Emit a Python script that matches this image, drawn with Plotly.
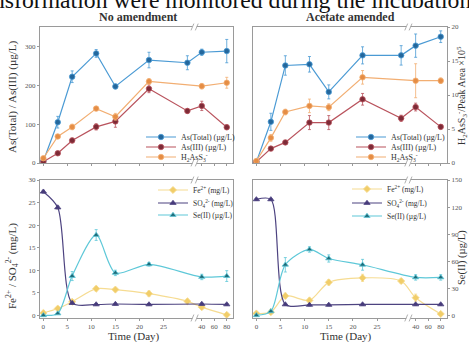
import plotly.graph_objects as go

# ---------------- data ----------------
days = [0, 3, 6, 11, 15, 22, 30, 40, 80]
tick_days = [0, 5, 10, 15, 20, 25, 40, 60, 80]
tick_labels = ['0', '5', '10', '15', '20', '25', '40', '60', '80']

# No amendment (top-left)
as_total_na = [5, 105, 222, 282, 197, 265, 258, 285, 288]
as_total_na_err = [3, 15, 15, 10, 6, 20, 18, 8, 30]
as_iii_na = [3, 25, 58, 93, 107, 191, 134, 147, 92]
as_iii_na_err = [2, 5, 6, 8, 15, 10, 6, 12, 6]
h2ass3_na = [0.7, 3.9, 5.3, 8.0, 6.8, 12.0, None, 11.3, 11.8]
h2ass3_na_err = [0.2, 0.3, 0.4, 0.3, 0.5, 0.4, 0, 0.4, 0.8]

# Acetate amended (top-right)
as_total_ac = [3, 106, 251, 254, 183, 277, 277, 302, 325]
as_total_ac_err = [2, 22, 25, 20, 18, 22, 25, 30, 15]
as_iii_ac = [3, 37, 53, 104, 104, 164, 115, 144, 93]
as_iii_ac_err = [2, 5, 5, 18, 18, 15, 8, 10, 6]
h2ass3_ac = [0.3, 3.7, 7.5, 8.4, 8.2, 12.6, None, 12.1, 12.1]
h2ass3_ac_err = [0.2, 0.5, 0.4, 1.0, 0.5, 1.0, 0, 2.5, 0.4]

# No amendment (bottom-left)
fe_na = [0.5, 1.5, 3.0, 5.9, 5.7, 4.8, 3.1, 1.8, 0.1]
fe_na_err = [0.6, 0.4, 0.3, 0.5, 0.3, 0.6, 0.5, 0.4, 0.3]
so4_na = [27.4, 23.9, 2.7, 2.4, 2.5, 2.4, None, 2.5, 2.4]
so4_na_err = [0.3, 0.3, 0.2, 0.2, 0.2, 0.2, 0, 0.2, 0.2]
se_na = [0, 2, 43.5, 89, 47, 56.5, None, 42.5, 43.5]
se_na_err = [0, 0, 5, 6, 3, 2, 0, 3, 6]

# Acetate amended (bottom-right)
fe_ac = [0.4, 0.7, 4.3, 3.3, 7.3, 8.3, 7.6, 3.9, 0.3]
fe_ac_err = [0.3, 0.3, 0.6, 0.5, 0.6, 0.8, 0.5, 0.8, 0.3]
so4_ac = [25.7, 25.7, 2.4, 2.3, 2.3, 2.4, None, 2.4, 2.4]
so4_ac_err = [0.2, 0.2, 0.2, 0.2, 0.2, 0.2, 0, 0.2, 0.2]
se_ac = [0, 4.4, 56, 73, 63, 56, None, 42, 42]
se_ac_err = [0, 1, 8, 3, 4, 6, 0, 3, 3]

# ---------------- layout helpers ----------------
W, H = 469, 342
FONT = 'Liberation Serif'


def px(x):
    return x / W


def py(y):
    return 1 - y / H


def xpos(d):
    return d if d <= 30 else 33.0 + (d - 40) * 0.13


X_L = [px(40), px(233)]
X_R = [px(253), px(447)]
Y_T = [py(163), py(27)]
Y_B = [py(318), py(180)]
XRANGE = [-0.7, 39.5]
BREAK = 31.5

C_BLUE_L, C_BLUE_M = '#4a9ad4', '#24679c'
C_RED_L, C_RED_M = '#b9535d', '#7d2b37'
C_ORG_L, C_ORG_M = '#f2ae72', '#e58d45'
C_FE_L, C_FE_M = '#f6dc92', '#f1cd69'
C_SO4_L, C_SO4_M = '#4d4380', '#463a7a'
C_SE_L, C_SE_M = '#5ec8d8', '#1f6b79'

fig = go.Figure()
xs = [xpos(d) for d in days]


def add(y, err, name, cl, cm, symbol, xa, ya, leg, spline):
    fig.add_trace(go.Scatter(
        x=xs, y=y, name=name, xaxis=xa, yaxis=ya, legend=leg,
        mode='lines+markers', connectgaps=True, hoverinfo='skip',
        error_y=dict(type='data', array=err, color=cl, thickness=0.8, width=1.5),
        line=dict(color=cl, width=1.2, shape='spline' if spline else 'linear', smoothing=0.8),
        marker=dict(color=cm, size=5.5, symbol=symbol, line=dict(color=cl, width=0.8)),
    ))


add(as_total_na, as_total_na_err, 'As(Total) (µg/L)', C_BLUE_L, C_BLUE_M, 'circle', 'x', 'y', 'legend2', False)
add(as_iii_na, as_iii_na_err, 'As(III) (µg/L)', C_RED_L, C_RED_M, 'circle', 'x', 'y', 'legend3', False)
add(h2ass3_na, h2ass3_na_err, 'H<sub>2</sub>AsS<sub>3</sub><sup>-</sup>', C_ORG_L, C_ORG_M, 'circle', 'x', 'y2', 'legend4', False)

add(as_total_ac, as_total_ac_err, 'As(Total) (µg/L)', C_BLUE_L, C_BLUE_M, 'circle', 'x2', 'y3', 'legend5', False)
add(as_iii_ac, as_iii_ac_err, 'As(III) (µg/L)', C_RED_L, C_RED_M, 'circle', 'x2', 'y3', 'legend6', False)
add(h2ass3_ac, h2ass3_ac_err, 'H<sub>2</sub>AsS<sub>3</sub><sup>-</sup>', C_ORG_L, C_ORG_M, 'circle', 'x2', 'y4', 'legend7', False)

add(fe_na, fe_na_err, 'Fe<sup>2+</sup> (mg/L)', C_FE_L, C_FE_M, 'diamond', 'x3', 'y5', 'legend8', True)
add(so4_na, so4_na_err, 'SO<sub>4</sub><sup>2-</sup> (mg/L)', C_SO4_L, C_SO4_M, 'triangle-up', 'x3', 'y5', 'legend9', True)
add(se_na, se_na_err, 'Se(II) (µg/L)', C_SE_L, C_SE_M, 'triangle-up', 'x3', 'y6', 'legend10', True)

add(fe_ac, fe_ac_err, 'Fe<sup>2+</sup> (mg/L)', C_FE_L, C_FE_M, 'diamond', 'x4', 'y7', 'legend11', True)
add(so4_ac, so4_ac_err, 'SO<sub>4</sub><sup>2-</sup> (mg/L)', C_SO4_L, C_SO4_M, 'triangle-up', 'x4', 'y7', 'legend12', True)
add(se_ac, se_ac_err, 'Se(II) (µg/L)', C_SE_L, C_SE_M, 'triangle-up', 'x4', 'y8', 'legend13', True)

LINE = '#9a9a9a'
TICKF = dict(family=FONT, size=7, color='#555555')


def xaxis(domain, anchor, labels):
    return dict(domain=domain, anchor=anchor, range=XRANGE, showline=True, mirror=True,
                linecolor=LINE, linewidth=1, ticks='outside', ticklen=2, tickcolor=LINE,
                tickvals=[xpos(d) for d in tick_days], ticktext=tick_labels,
                showticklabels=labels, tickfont=TICKF, showgrid=False, zeroline=False,
                automargin=False)


def yaxis(domain, anchor, rng, dtick, labels, side='left', overlay=None, visible=True):
    d = dict(domain=domain, anchor=anchor, range=rng, dtick=dtick, side=side,
             showline=(side == 'left'), mirror=(side == 'left'), linecolor=LINE, linewidth=1,
             ticks='outside' if labels else '', ticklen=2, tickcolor=LINE,
             showticklabels=labels, tickfont=TICKF, showgrid=False, zeroline=False,
             automargin=False, visible=visible)
    if overlay:
        d['overlaying'] = overlay
    return d


layout = dict(
    width=W, height=H, margin=dict(l=0, r=0, t=0, b=0),
    paper_bgcolor='white', plot_bgcolor='white', showlegend=True,
    font=dict(family=FONT, color='#333333'),
    xaxis=xaxis(X_L, 'y', False),
    yaxis=yaxis(Y_T, 'x', [0, 350], 100, True),
    yaxis2=yaxis(Y_T, 'x', [0, 20], 5, False, side='right', overlay='y', visible=False),
    xaxis2=xaxis(X_R, 'y3', False),
    yaxis3=yaxis(Y_T, 'x2', [0, 350], 100, False),
    yaxis4=yaxis(Y_T, 'x2', [0, 20], 5, True, side='right', overlay='y3'),
    xaxis3=xaxis(X_L, 'y5', True),
    yaxis5=yaxis(Y_B, 'x3', [-0.6, 30], 5, True),
    yaxis6=yaxis(Y_B, 'x3', [-3, 150], 30, False, side='right', overlay='y5', visible=False),
    xaxis4=xaxis(X_R, 'y7', True),
    yaxis7=yaxis(Y_B, 'x4', [-0.6, 30], 5, False),
    yaxis8=yaxis(Y_B, 'x4', [-3, 150], 30, True, side='right', overlay='y7'),
)

# one single-entry legend per series so rows can be packed tightly
leg_pos = [
    (141, 137), (141, 147), (141, 157),
    (351, 137), (351, 147), (351, 157),
    (153, 190), (153, 203), (153, 215),
    (347, 189), (347, 203), (347, 216),
]
for i, (lx, ly) in enumerate(leg_pos):
    key = 'legend%d' % (i + 2)
    size = 8 if i < 6 else 7.5
    layout[key] = dict(x=px(lx), y=py(ly), xanchor='left', yanchor='middle',
                       bgcolor='rgba(0,0,0,0)', borderwidth=0,
                       font=dict(family=FONT, size=size, color='#333333'),
                       itemwidth=30, tracegroupgap=0)

fig.update_layout(**layout)

# axis-break marks
shapes = []
for xa, ya in [('x', 'y'), ('x2', 'y3'), ('x3', 'y5'), ('x4', 'y7')]:
    for yy in (0, 1):
        shapes.append(dict(type='rect', xref=xa, yref=ya + ' domain', x0=BREAK - 0.45, x1=BREAK + 0.45,
                           y0=yy - 0.015, y1=yy + 0.015, fillcolor='white', line=dict(width=0), layer='above'))
        for off in (-0.45, 0.45):
            shapes.append(dict(type='line', xref=xa, yref=ya + ' domain', x0=BREAK + off - 0.3, x1=BREAK + off + 0.3,
                               y0=yy - 0.025, y1=yy + 0.025, line=dict(color=LINE, width=0.8), layer='above'))
fig.update_layout(shapes=shapes)


def note(text, x, y, size, angle=0, anchor='center', color='#333333'):
    return dict(text=text, x=px(x), y=py(y), xref='paper', yref='paper', textangle=angle,
                xanchor=anchor, yanchor='middle', showarrow=False,
                font=dict(family=FONT, size=size, color=color))


ann = [
    note('nsformation were monitored during the incubation', -9, 0, 23.7, anchor='left', color='#111111'),
    note('<b>No amendment</b>', 138, 17, 12),
    note('<b>Acetate amended</b>', 350, 17, 12),
    note('As(Total) / As(III) (µg/L)', 12, 97, 11, angle=-90),
    note('H<sub>2</sub>AsS<sub>3</sub><sup>-</sup>/Peak Area ×10<sup>5</sup>', 462, 96, 10, angle=-90),
    note('Fe<sup>2+</sup> / SO<sub>4</sub><sup>2-</sup> (mg/L)', 12, 266, 11, angle=-90),
    note('Se(II) (µg/L)', 462, 258, 10.5, angle=-90),
    note('Time (Day)', 134, 336, 11),
    note('Time (Day)', 346, 336, 11),
]
fig.update_layout(annotations=ann)

fig.write_html('out.html', config={'displayModeBar': False, 'staticPlot': True},
               post_script="document.body.style.margin='0px';")
